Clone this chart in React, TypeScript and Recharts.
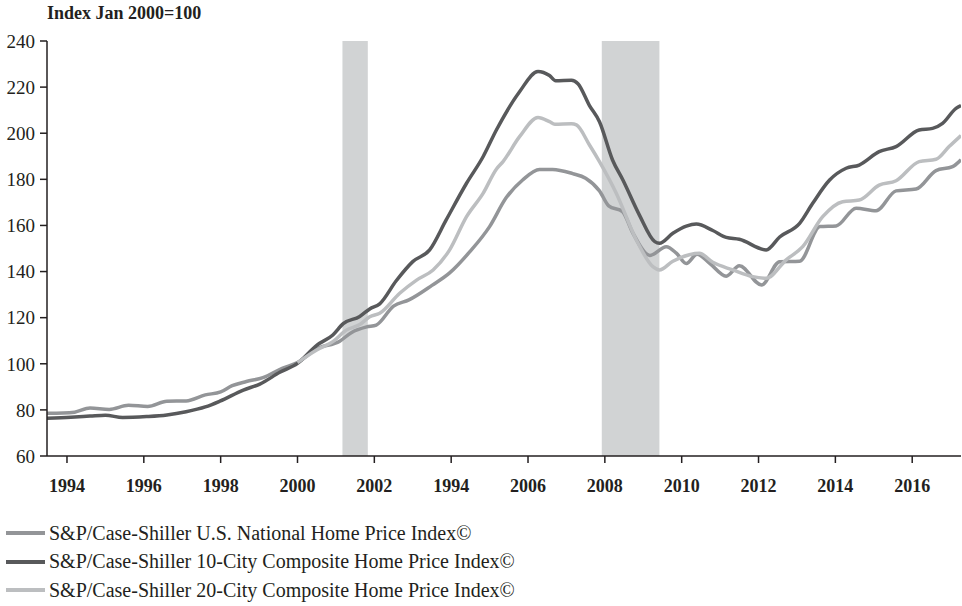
import { LineChart, Line, XAxis, YAxis, ReferenceArea } from "recharts";

// [decimal year, index value]
const nationalPts: [number, number][] = [
  [1993.48, 78.5], [1993.9, 78.6], [1994.2, 79], [1994.6, 80.8], [1995.1, 80.2],
  [1995.6, 82], [1996.1, 81.5], [1996.6, 83.8], [1997.1, 83.9], [1997.6, 86.5],
  [1998.0, 87.8], [1998.3, 90.5], [1998.67, 92.3], [1999.1, 94], [1999.6, 98],
  [2000.0, 100.5], [2000.5, 106.5], [2001.1, 109.8], [2001.4, 113.5], [2001.8, 116],
  [2002.05, 116.8], [2002.5, 125], [2002.9, 127.7], [2003.5, 134], [2003.96, 139.4],
  [2004.48, 148.5], [2005.0, 159.5], [2005.43, 172], [2005.86, 179.7], [2006.3, 184.3],
  [2006.64, 184.3], [2007.16, 182.5], [2007.5, 180.5], [2007.86, 175], [2008.1, 168.5],
  [2008.46, 166], [2008.72, 157], [2009.17, 147], [2009.6, 150.8], [2009.86, 148],
  [2010.12, 143.5], [2010.4, 147.5], [2010.72, 143.7], [2011.16, 138], [2011.5, 142.5],
  [2012.08, 134.2], [2012.55, 144.3], [2013.07, 144.5], [2013.6, 159.5], [2014.02, 159.8],
  [2014.54, 167.5], [2015.06, 166.4], [2015.58, 175], [2016.1, 175.8], [2016.62, 183.8],
  [2017.05, 185.5], [2017.27, 188.5],
];

const city10Pts: [number, number][] = [
  [1993.48, 76.4], [1994.1, 76.8], [1994.6, 77.3], [1995.0, 77.7], [1995.45, 76.7],
  [1996.07, 77.1], [1996.6, 77.8], [1997.1, 79.2], [1997.6, 81.3], [1997.98, 83.8],
  [1998.59, 88.6], [1999.02, 91.2], [1999.54, 96.3], [2000.0, 100.2], [2000.5, 108],
  [2000.92, 112.5], [2001.19, 117.4], [2001.62, 120.5], [2001.88, 123.8], [2002.14, 126],
  [2002.57, 136], [2003.0, 144.3], [2003.44, 149.4], [2003.87, 162.4], [2004.4, 178.3],
  [2004.83, 189.8], [2005.18, 201.5], [2005.78, 218], [2006.26, 226.8], [2006.56, 225],
  [2006.72, 222.8], [2007.13, 223], [2007.3, 221.5], [2007.6, 212], [2007.86, 205],
  [2008.2, 188.4], [2008.47, 179.7], [2008.9, 164.5], [2009.3, 153], [2009.42, 152.3],
  [2009.77, 156.6], [2010.12, 159.7], [2010.38, 160.6], [2010.81, 157.8], [2011.16, 154.8],
  [2011.5, 154], [2012.2, 149.4], [2012.55, 155], [2013.07, 160.9], [2013.41, 169.6],
  [2013.85, 179.7], [2014.28, 184.8], [2014.62, 186.2], [2015.14, 192], [2015.58, 194.2],
  [2016.18, 201.4], [2016.53, 202.1], [2016.79, 204.3], [2017.14, 210.8], [2017.27, 212],
];

const city20Pts: [number, number][] = [
  [2000.0, 100.5], [2000.5, 106], [2000.92, 109.6], [2001.27, 114.6], [2001.62, 117],
  [2001.88, 120.4], [2002.14, 121.9], [2002.66, 130.6], [2003.1, 136.3], [2003.53, 140.7],
  [2003.96, 149.4], [2004.4, 163.8], [2004.83, 173.9], [2005.18, 184.5], [2005.35, 187.7],
  [2005.78, 198.5], [2006.26, 206.8], [2006.56, 205], [2006.7, 203.9], [2007.13, 204.1],
  [2007.26, 203.6], [2007.6, 194.9], [2007.86, 187.7], [2008.3, 173.9], [2008.82, 153.7],
  [2009.25, 142.1], [2009.42, 140.7], [2009.77, 144.5], [2010.2, 147.3], [2010.46, 147.9],
  [2010.81, 144], [2011.33, 140.7], [2011.85, 137.8], [2012.2, 137.1], [2012.72, 145.1],
  [2013.15, 150.8], [2013.67, 163.8], [2014.19, 170.3], [2014.62, 171], [2015.14, 177.5],
  [2015.58, 179.4], [2016.18, 187.7], [2016.62, 188.7], [2016.96, 194.2], [2017.27, 199],
];

const recessions: [number, number][] = [
  [2001.17, 2001.83],
  [2007.92, 2009.42],
];

const xTicks = [1994, 1996, 1998, 2000, 2002, 2004, 2006, 2008, 2010, 2012, 2014, 2016];
// the source labels the 2004 tick "1994"; kept as printed
const xTickLabels = ["1994", "1996", "1998", "2000", "2002", "1994", "2006", "2008", "2010", "2012", "2014", "2016"];
const yTicks = [60, 80, 100, 120, 140, 160, 180, 200, 220, 240];

const series = [
  { key: "national", label: "S&P/Case-Shiller U.S. National Home Price Index©", color: "#939598", pts: nationalPts },
  { key: "city10", label: "S&P/Case-Shiller 10-City Composite Home Price Index©", color: "#58595b", pts: city10Pts },
  { key: "city20", label: "S&P/Case-Shiller 20-City Composite Home Price Index©", color: "#bcbec0", pts: city20Pts },
];

const ink = "#231f20";
const serif = "'Liberation Serif', 'DejaVu Serif', serif";

export default function App() {
  return (
    <div style={{ position: "absolute", left: 0, top: 0, width: 962, height: 606, background: "#fff", fontFamily: serif }}>
      <div style={{ position: "absolute", left: 47, top: 3, fontSize: 18, fontWeight: "bold", color: ink }}>
        Index Jan 2000=100
      </div>
      <LineChart width={962} height={500} margin={{ top: 41, right: 1, bottom: 10, left: 0 }}>
        {recessions.map(([a, b], i) => (
          <ReferenceArea key={i} x1={a} x2={b} y1={60} y2={240} fill="#d1d3d4" fillOpacity={1} stroke="none" ifOverflow="hidden" />
        ))}
        <XAxis
          type="number"
          dataKey="x"
          domain={[1993.48, 2017.27]}
          ticks={xTicks}
          allowDataOverflow
          height={34}
          tickSize={7}
          tickMargin={16}
          tickFormatter={(v: number) => xTickLabels[xTicks.indexOf(v)] ?? String(v)}
          axisLine={{ stroke: ink, strokeWidth: 1.5 }}
          tickLine={{ stroke: ink, strokeWidth: 1.5 }}
          tick={{ fill: ink, fontSize: 18, fontWeight: "bold", fontFamily: serif }}
        />
        <YAxis
          type="number"
          domain={[60, 240]}
          ticks={yTicks}
          width={47}
          tickSize={7}
          tickMargin={5}
          axisLine={{ stroke: ink, strokeWidth: 1.5 }}
          tickLine={{ stroke: ink, strokeWidth: 1.5 }}
          tick={{ fill: ink, fontSize: 19, fontFamily: serif }}
        />
        {series.map((s) => (
          <Line
            key={s.key}
            data={s.pts.map(([x, v]) => ({ x, v }))}
            dataKey="v"
            type="monotone"
            stroke={s.color}
            strokeWidth={3.5}
            dot={false}
            isAnimationActive={false}
          />
        ))}
      </LineChart>
      {series.map((s, i) => (
        <div
          key={s.key}
          style={{ position: "absolute", left: 6, top: 521 + i * 28.5, height: 24, display: "flex", alignItems: "center", fontSize: 20, color: ink, whiteSpace: "nowrap" }}
        >
          <span style={{ display: "inline-block", width: 39, height: 4, background: s.color, marginRight: 4 }} />
          {s.label}
        </div>
      ))}
    </div>
  );
}
